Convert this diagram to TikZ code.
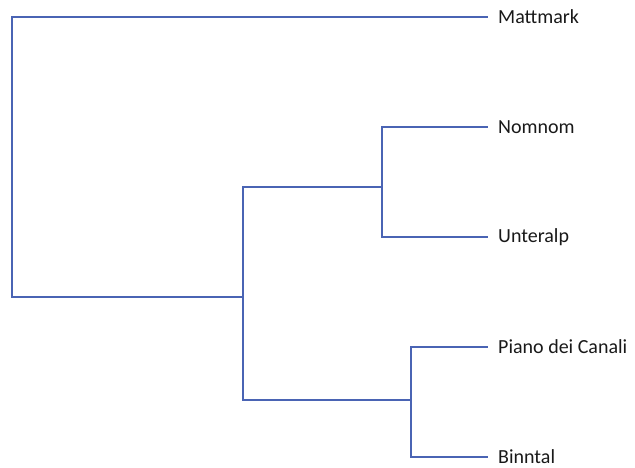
\documentclass[tikz,border=0pt]{standalone}
\usepackage{fontspec}
\setmainfont{Carlito}
\definecolor{branch}{HTML}{4A64B4}
\begin{document}
\begin{tikzpicture}[x=1pt,y=-1pt,
  link/.style={draw=branch,line width=2.2pt,line cap=rect,line join=miter},
  leaf/.style={anchor=west,inner sep=0pt,font=\fontsize{20}{24}\selectfont,text=black!90}]
\useasboundingbox (0,0) rectangle (635,467);
% leaf labels
\node[leaf] (mat) at (498,17) {Mattmark};
\node[leaf] (nom) at (498,127) {Nomnom};
\node[leaf] (unt) at (498,237) {Unteralp};
\node[leaf] (pia) at (498,347) {Piano dei Canali};
\node[leaf] (bin) at (498,457) {Binntal};
% inner joints of the tree
\coordinate (root) at (12,297);
\coordinate (j1) at (243,297);
\coordinate (j2) at (382,187);
\coordinate (j3) at (411,400);
% branches
\draw[link] ([xshift=-11pt]mat.west) -- (12,17) -- (root) -- (j1);
\draw[link] (j1 |- j2) -- (j1 |- j3);
\draw[link] (j1 |- j2) -- (j2);
\draw[link] (j1 |- j3) -- (j3);
\draw[link] ([xshift=-11pt]nom.west) -- (j2 |- nom.west) -- (j2 |- unt.west) -- ([xshift=-11pt]unt.west);
\draw[link] ([xshift=-11pt]pia.west) -- (j3 |- pia.west) -- (j3 |- bin.west) -- ([xshift=-11pt]bin.west);
\end{tikzpicture}
\end{document}
